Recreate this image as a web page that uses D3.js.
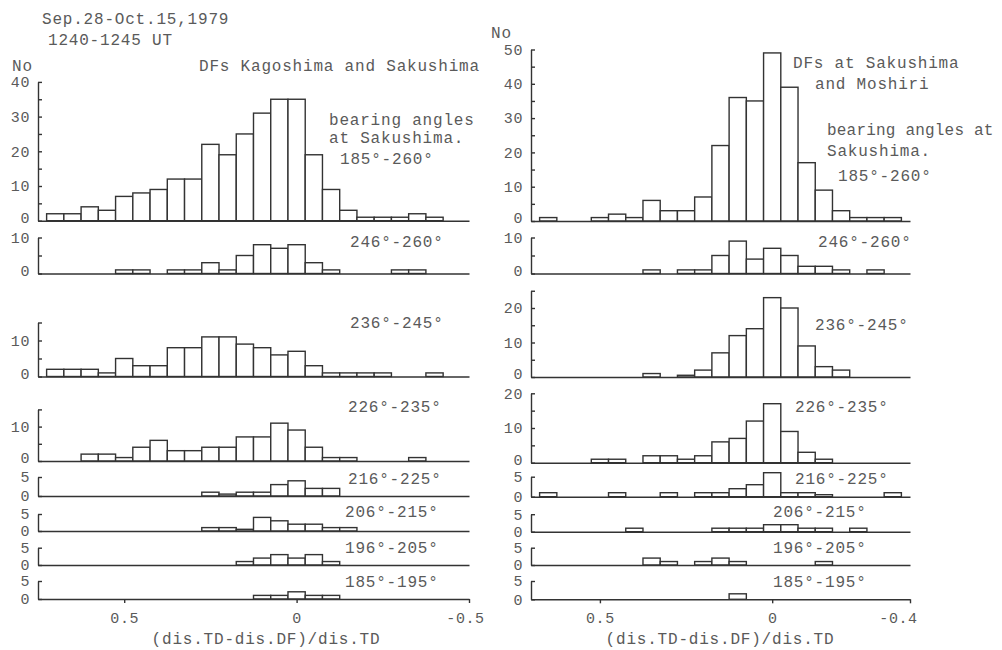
<!DOCTYPE html>
<html>
<head>
<meta charset="utf-8">
<script src="https://cdn.jsdelivr.net/npm/d3@7"></script>
<style>
  body { margin: 0; background: #fff; }
  svg text { font-family: "Liberation Mono", "DejaVu Sans Mono", monospace; font-size: 16px; fill: #5a5a5a; letter-spacing: 0.8px; }
  svg .tick text { font-size: 15px; letter-spacing: 0.6px; }
</style>
</head>
<body>
<svg id="chart" width="1002" height="650"></svg>
<script>
// bin centres of (dis.TD-dis.DF)/dis.TD, 0.05 wide
var bins = [0.70, 0.65, 0.60, 0.55, 0.50, 0.45, 0.40, 0.35, 0.30, 0.25, 0.20, 0.15,
            0.10, 0.05, 0.00, -0.05, -0.10, -0.15, -0.20, -0.25, -0.30, -0.35, -0.40];

// DFs Kagoshima and Sakushima
var kagoAll = [2,2,4,3,7,8,9,12,12,22,19,25,31,35,35,19,9,3,1,1,1,2,1];
var kago246 = [0,0,0,0,1,1,0,1,1,3,1,5,8,7,8,3,1,0,0,0,1,1,0];
var kago236 = [2,2,2,1,5,3,3,8,8,11,11,9,8,6,7,3,1,1,1,1,0,0,1];
var kago226 = [0,0,2,2,1,4,6,3,3,4,4,7,7,11,9,4,1,1,0,0,0,1,0];
var kago216 = [0,0,0,0,0,0,0,0,0,1,0.5,1,1,3,4,2,2,0,0,0,0,0,0];
var kago206 = [0,0,0,0,0,0,0,0,0,1,1,0.5,4,3,2,2,1,1,0,0,0,0,0];
var kago196 = [0,0,0,0,0,0,0,0,0,0,0,1,2,3,2,3,1,0,0,0,0,0,0];
var kago185 = [0,0,0,0,0,0,0,0,0,0,0,0,1,1,2,1,1,0,0,0,0,0,0];

// DFs at Sakushima and Moshiri
var sakuAll = [0,1,0,0,1,2,1,6,3,3,7,22,36,35,49,39,17,9,3,1,1,1,0];
var saku246 = [0,0,0,0,0,0,0,1,0,1,1,5,9,4,7,5,2,2,1,0,1,0,0];
var saku236 = [0,0,0,0,0,0,0,1,0,0.5,2,7,12,14,23,20,9,3,2,0,0,0,0];
var saku226 = [0,0,0,0,1,1,0,2,2,1,2,6,7,12,17,9,3,1,0,0,0,0,0];
var saku216 = [0,1,0,0,0,1,0,0,1,0,1,1,2,3,6,1,1,0.5,0,0,0,1,0];
var saku206 = [0,0,0,0,0,0,1,0,0,0,0,1,1,1,2,2,1,1,0,1,0,0,0];
var saku196 = [0,0,0,0,0,0,0,2,1,0,1,2,1,0,0,0,0,1,0,0,0,0,0];
var saku185 = [0,0,0,0,0,0,0,0,0,0,0,0,1.5,0,0,0,0,0,0,0,0,0,0];

var rangeNames = ["246°-260°", "236°-245°", "226°-235°", "216°-225°", "206°-215°", "196°-205°", "185°-195°"];
var xTicksLeft = [0.5, 0, -0.5];
var xTicksRight = [0.5, 0, -0.4];

var svg = d3.select("#chart");
var ink = "#333";

var xLeft = d3.scaleLinear().domain([0.75, -0.5]).range([38, 469]);
var xRight = d3.scaleLinear().domain([0.7, -0.4]).range([531, 910]);

var leftPanels = [
  {counts: kagoAll, base: 220.7, ppu: 3.47, top: 40, labels: [0,10,20,30,40]},
  {counts: kago246, base: 273.5, ppu: 3.6, top: 10, labels: [0,10], name: 0, ny: 247},
  {counts: kago236, base: 376.5, ppu: 3.6, top: 15, labels: [0,10], name: 1, ny: 328},
  {counts: kago226, base: 461, ppu: 3.44, top: 15, labels: [0,10], name: 2, ny: 411.5},
  {counts: kago216, base: 496, ppu: 3.8, top: 5, labels: [0,5], name: 3, ny: 484},
  {counts: kago206, base: 531, ppu: 3.4, top: 5, labels: [0,5], name: 4, ny: 517},
  {counts: kago196, base: 565, ppu: 3.46, top: 5, labels: [0,5], name: 5, ny: 552.5},
  {counts: kago185, base: 599, ppu: 3.6, top: 5, labels: [0,5], name: 6, ny: 587, last: true}
];
var rightPanels = [
  {counts: sakuAll, base: 221, ppu: 3.43, top: 50, labels: [0,10,20,30,40,50]},
  {counts: saku246, base: 273.5, ppu: 3.6, top: 10, labels: [0,10], name: 0, ny: 247},
  {counts: saku236, base: 377, ppu: 3.45, top: 25, labels: [0,10,20], name: 1, ny: 330},
  {counts: saku226, base: 462.7, ppu: 3.47, top: 20, labels: [0,10,20], name: 2, ny: 412},
  {counts: saku216, base: 496.7, ppu: 4.0, top: 5, labels: [0,5], name: 3, ny: 484},
  {counts: saku206, base: 531.7, ppu: 3.5, top: 5, labels: [0,5], name: 4, ny: 517},
  {counts: saku196, base: 565, ppu: 3.46, top: 5, labels: [0,5], name: 5, ny: 553},
  {counts: saku185, base: 599.3, ppu: 3.66, top: 5, labels: [0,5], name: 6, ny: 587, last: true}
];

function styleAxis(sel) {
  sel.attr("font-family", null).attr("font-size", null);
  sel.selectAll("path, line").attr("stroke", ink).attr("stroke-width", 1.4);
  sel.selectAll("text").attr("fill", null);
}

function drawPanel(x, p, xTicks, nameX) {
  var g = svg.append("g");
  var y = d3.scaleLinear().domain([0, p.top]).range([p.base, p.base - p.top * p.ppu]);

  var rows = bins.map(function(b, i){ return {b: b, n: p.counts[i]}; })
                 .filter(function(d){ return d.n > 0; });
  g.selectAll("rect").data(rows).enter().append("rect")
    .attr("x", function(d){ return x(d.b + 0.025); })
    .attr("width", function(d){ return x(d.b - 0.025) - x(d.b + 0.025); })
    .attr("y", function(d){ return y(d.n); })
    .attr("height", function(d){ return y(0) - y(d.n); })
    .attr("fill", "#fff")
    .attr("stroke", ink)
    .attr("stroke-width", 1.4);

  // x baseline (ticks only on the bottom panel)
  var xa = d3.axisBottom(x).tickSize(4).tickSizeOuter(0).tickPadding(9)
    .tickValues(p.last ? xTicks : []).tickFormat(function(d){ return String(d); });
  g.append("g").attr("transform", "translate(0," + p.base + ")").call(xa).call(styleAxis);

  // y axis, small ticks every 5 pointing inward
  var ya = d3.axisLeft(y).tickValues(d3.range(0, p.top + 0.01, 5))
    .tickSize(-4).tickSizeOuter(0).tickPadding(8)
    .tickFormat(function(d){ return p.labels.indexOf(d) >= 0 ? d : ""; });
  var yg = g.append("g").attr("transform", "translate(" + x.range()[0] + ",0)").call(ya).call(styleAxis);
  // on the taller panels the zero label sits a little above its tick
  if (p.top > 5) {
    yg.selectAll(".tick text").filter(function(d){ return d === 0; }).attr("y", -3);
  }

  if (p.name !== undefined) {
    g.append("text").attr("x", nameX[p.name]).attr("y", p.ny).text(rangeNames[p.name]);
  }
  return g;
}

var leftNameX = [350, 350, 348, 348, 345, 345, 345];
var rightNameX = [818, 815, 795, 795, 773, 773, 773];

leftPanels.forEach(function(p){ drawPanel(xLeft, p, xTicksLeft, leftNameX); });
rightPanels.forEach(function(p){ drawPanel(xRight, p, xTicksRight, rightNameX); });

// nudge the end labels like the original
svg.selectAll("text").filter(function(){ return this.textContent === "-0.4"; }).attr("dx", -12);
svg.selectAll("text").filter(function(){ return this.textContent === "-0.5"; }).attr("dx", -4);

var notes = [
  {x: 42, y: 24, t: "Sep.28-Oct.15,1979"},
  {x: 48, y: 45, t: "1240-1245 UT"},
  {x: 12, y: 71, t: "No"},
  {x: 199, y: 71, t: "DFs Kagoshima and Sakushima"},
  {x: 329, y: 125, t: "bearing angles"},
  {x: 329, y: 143, t: "at Sakushima."},
  {x: 340, y: 164, t: "185°-260°"},
  {x: 491, y: 38, t: "No"},
  {x: 793, y: 68, t: "DFs at Sakushima"},
  {x: 815, y: 89, t: "and Moshiri"},
  {x: 827, y: 135, t: "bearing angles at", tight: true},
  {x: 827, y: 156, t: "Sakushima."},
  {x: 838, y: 181, t: "185°-260°"}
];
svg.selectAll("text.note").data(notes).enter().append("text")
  .attr("class", "note")
  .attr("x", function(d){ return d.x; })
  .attr("y", function(d){ return d.y; })
  .style("letter-spacing", function(d){ return d.tight ? "0.2px" : null; })
  .text(function(d){ return d.t; });

svg.append("text").attr("x", 266).attr("y", 644).attr("text-anchor", "middle").text("(dis.TD-dis.DF)/dis.TD");
svg.append("text").attr("x", 720).attr("y", 644).attr("text-anchor", "middle").text("(dis.TD-dis.DF)/dis.TD");
</script>
</body>
</html>
